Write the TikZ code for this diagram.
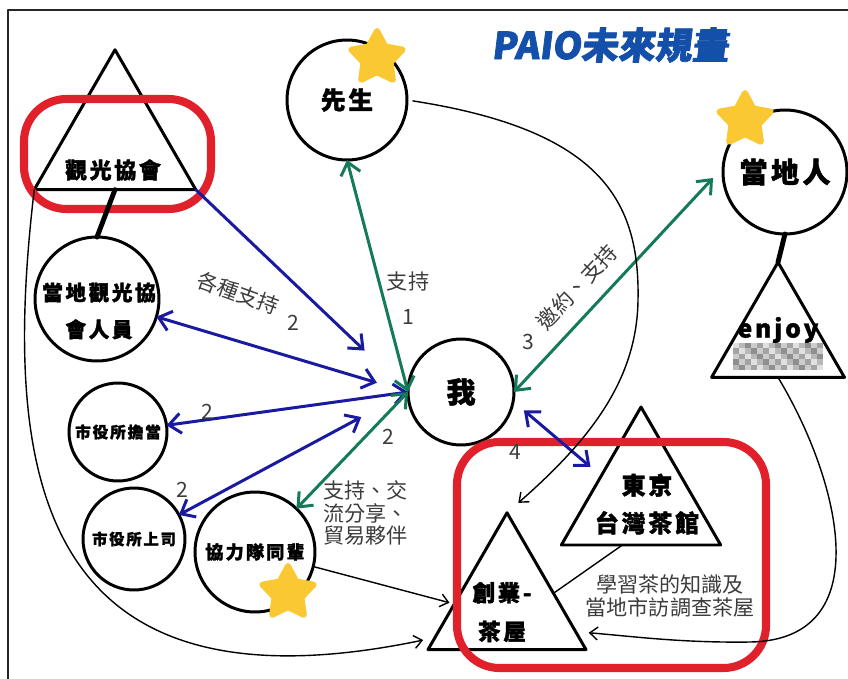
\documentclass[tikz,border=0pt]{standalone}
\usepackage{fontspec}
\setmainfont{Noto Sans CJK TC}
\newfontfamily\heavy[LetterSpace=12, BoldFeatures={FakeBold=1.6}]{Noto Sans CJK TC}
\newfontfamily\brush[FakeSlant=0.12, BoldFeatures={FakeBold=2}]{Noto Sans CJK TC}
\usetikzlibrary{positioning}
\usetikzlibrary{shapes.geometric}
\usetikzlibrary{arrows.meta}

\definecolor{arrowblue}{HTML}{1A1AA0}
\definecolor{arrowgreen}{HTML}{147A5A}
\definecolor{markred}{HTML}{E0202A}
\definecolor{staryellow}{HTML}{F9C832}
\definecolor{titleblue}{HTML}{1450AA}
\definecolor{notegray}{HTML}{3C3C3C}

\newcommand{\fsz}[2]{\fontsize{#1}{#2}\selectfont}

\begin{document}
\begin{tikzpicture}[x=0.02cm, y=-0.02cm, line cap=round, line join=round,
    >={Straight Barb[length=2.4mm,width=4mm]},
    ring/.style={circle, draw, line width=1.7pt, inner sep=0pt, outer sep=0pt, minimum size=#1},
    peak/.style={regular polygon, regular polygon sides=3, draw, line width=1.7pt, inner sep=0pt, outer sep=0pt, minimum size=#1},
    tag/.style 2 args={font=\heavy\bfseries\fsz{#1}{#2}, align=center, inner sep=0pt},
    note/.style={text=notegray, font=\fsz{12pt}{13pt}, align=center, inner sep=0pt},
    bluearr/.style={<->, arrowblue, line width=1.7pt},
    greenarr/.style={<->, arrowgreen, line width=1.7pt},
    thinarr/.style={>={Straight Barb[length=1.6mm,width=2.6mm]}, ->, line width=0.8pt},
    stem/.style={line width=2.8pt},
    badge/.style={star, star points=5, star point ratio=1.9, fill=staryellow, draw=staryellow, line width=3.4pt, minimum size=1.08cm, inner sep=0pt},
    highlight/.style={draw=markred, line width=4.6pt, rounded corners=0.85cm}]
    \useasboundingbox (0,0) rectangle (848,679);
    \draw[line width=1.2pt, black!85] (8,10) rectangle (900,720);

    % Title
    \node[text=titleblue, font=\brush\bfseries\fsz{21pt}{22pt}] (title) at (610,45) {PAIO未來規畫};

    % People (circles)
    \node[ring=2.4cm, tag={14pt}{16pt}] (sensei) at (347,100) {先生};
    \node[ring=2.48cm, tag={16pt}{18pt}] (locals) at (785,172) {當地人};
    \node[ring=2.12cm, tag={16.5pt}{18pt}] (me) at (461,392) {我};
    \node[ring=2.48cm] (staff) at (97,299) {};
    \node[tag={11.8pt}{21pt}] (staff-t) at (99,311) {當地觀光協\\會人員};
    \node[ring=1.96cm, tag={8.9pt}{10pt}] (officer) at (118,432) {市役所擔當};
    \node[ring=2.04cm, tag={8.7pt}{10pt}] (boss) at (134,539) {市役所上司};
    \node[ring=2.4cm, tag={10.3pt}{12pt}] (peer) at (255,552) {協力隊同輩};

    % Places (triangles)
    \node[peak=3.73cm] (assoc) at (115,143) {};
    \node[tag={12.5pt}{14pt}] (assoc-t) at (113,170) {觀光協會};
    \node[peak=3.68cm] (tokyo) at (641,499) {};
    \node[tag={13.6pt}{21.5pt}] (tokyo-t) at (647,504) {東京\\台灣茶館};
    \node[peak=3.65cm] (cafe) at (507,604) {};
    \node[tag={12.8pt}{22pt}] (cafe-t) at (502,612) {創業-\\茶屋};
    \node[peak=3.07cm] (enjoy) at (778,339) {};
    \node[tag={14pt}{16pt}] (enjoy-t) at (778,330) {enjoy};
    \foreach \i in {0,...,14}
        \foreach \j in {0,...,4} {
            \pgfmathsetmacro{\g}{int(mod(\i*7+\j*13,5))*8+12}
            \fill[black!\g] (733+6*\i,343+5.4*\j) rectangle +(6,5.4);
        }

    % Red highlights
    \draw[highlight] (24,99) rectangle (211,209);
    \draw[highlight] (457,442) rectangle (766,668);

    % Stems
    \draw[stem] (assoc.side 2) -- (staff.north);
    \draw[stem] (locals.south) -- (enjoy.corner 1);

    % Arrows into me
    \draw[->, arrowblue, line width=1.7pt, shorten >=1.2cm] (assoc.corner 3) -- (me.west);
    \draw[bluearr, shorten >=0.65cm] (staff) -- (me.west);
    \draw[bluearr] (officer) -- (me.west);
    \draw[bluearr, shorten >=1.06cm] (boss) -- (me.west);
    \draw[greenarr] (me.west) -- (sensei.south);
    \draw[greenarr] (me.west) -- (peer);
    \coordinate (locals-in) at (713,178);
    \draw[greenarr] (me.east) -- (locals-in);
    \draw[bluearr, shorten <=0.28cm, shorten >=0.28cm] (me.-10) -- (tokyo.side 1);

    % Thin connectors
    \draw[thinarr, shorten <=0.12cm, shorten >=0.3cm] (sensei.east) .. controls (600,130) and (640,200) .. (638,300)
        .. controls (637,380) and (590,440) .. (cafe.corner 1);
    \draw[thinarr, shorten >=0.1cm] (peer.-14) -- (cafe.west);
    \draw[thinarr, shorten >=0.24cm] (assoc.corner 2) .. controls (0,480) and (40,720) .. (cafe.205);
    \draw[thinarr, shorten >=0.26cm] (enjoy.side 2) .. controls (840,480) and (880,640) .. (750,642)
        .. controls (680,643) and (630,636) .. (cafe.-22);
    \draw[line width=0.8pt] (tokyo.248) -- (cafe.13);

    % Labels
    \node[note, rotate=-20] (lbl-staff) at (238,293) {各種支持};
    \node[note] (num-staff) at (293,323) {2};
    \node[note] (lbl-sensei) at (408,282) {支持};
    \node[note] (num-sensei) at (408,317) {1};
    \node[note] (num-officer) at (207,412) {2};
    \node[note] (num-boss) at (182,490) {2};
    \node[note] (num-peer) at (388,437) {2};
    \node[note, align=left, anchor=west] (lbl-peer) at (323,513) {支持、交\\流分享、\\貿易夥伴};
    \node[note] (num-locals) at (528,342) {3};
    \node[note, rotate=47] (lbl-locals) at (577,287) {邀約、支持};
    \node[note] (num-tokyo) at (515,452) {4};
    \node[note] (lbl-tokyo) at (670,596) {學習茶的知識及\\當地市訪調查茶屋};

    % Stars
    \node[badge] (star-sensei) at (377,58) {};
    \node[badge] (star-locals) at (745,120) {};
    \node[badge] (star-peer) at (288,593) {};
\end{tikzpicture}
\end{document}
